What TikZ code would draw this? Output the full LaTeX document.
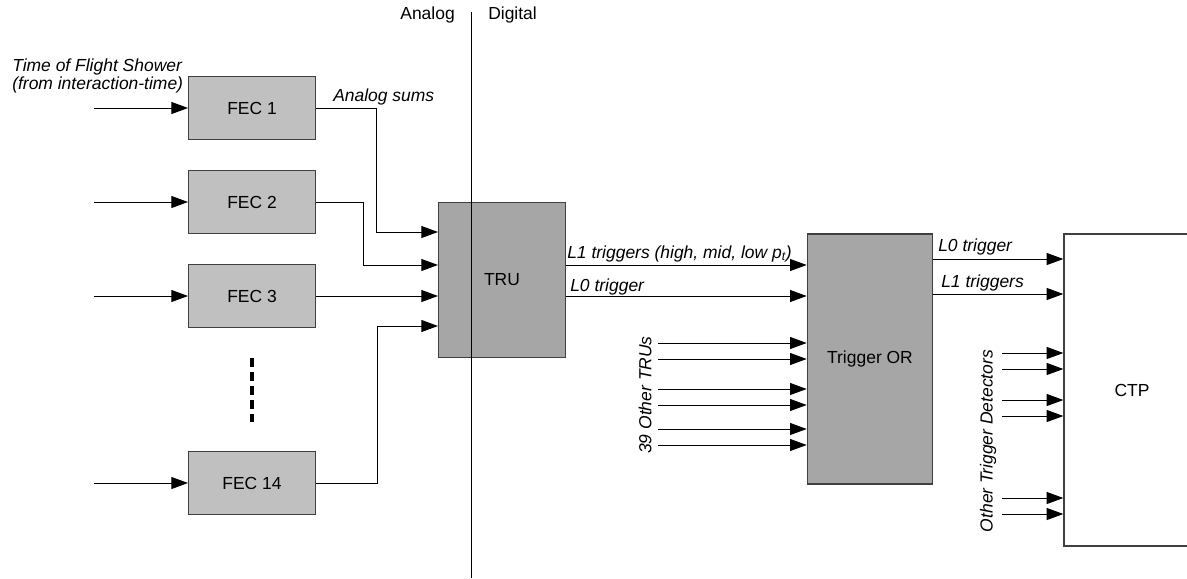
\documentclass[tikz,border=0pt]{standalone}
\usepackage{fontspec}
\setmainfont{Liberation Sans}
\usetikzlibrary{arrows.meta,calc}
\definecolor{fecgray}{RGB}{192,192,192}
\definecolor{trugray}{RGB}{166,166,166}
\definecolor{edge}{RGB}{64,64,64}

\begin{document}
\begin{tikzpicture}[x=0.75pt, y=-0.75pt,
  font=\fontsize{13.1}{15}\selectfont,
  arr/.style={-{Triangle[length=12.5pt, width=9pt]}, line width=0.7pt},
  wire/.style={line width=0.7pt},
  blk/.style={draw=edge, line width=1pt, minimum width=95pt, minimum height=47pt, inner sep=0pt},
  fec/.style={blk, fill=fecgray},
  big/.style={blk, fill=trugray},
  lbl/.style={font=\fontsize{13.1}{15}\selectfont\itshape, anchor=base west, inner sep=0pt}]
\useasboundingbox (0,0) rectangle (1187,578);
%% ---- front-end cards ----
\node[fec] (fec1) at (252,108) {FEC 1};
\node[fec] (fec2) at (252,202) {FEC 2};
\node[fec] (fec3) at (252,296) {FEC 3};
\node[fec] (fec14) at (252,483) {FEC 14};
\draw[line width=2.4pt, dash pattern=on 7pt off 3.5pt] (252,358) -- (252,422);
\foreach \f in {fec1,fec2,fec3,fec14}
  \draw[arr] (\f.west) ++(-94,0) coordinate (in-\f) -- (\f.west);
\node[lbl] (tof) at (12,71) {Time of Flight Shower};
\node[lbl] (tofsrc) at (12,89) {(from interaction-time)};
\node[lbl] (asum) at (333,101) {Analog sums};
%% ---- TRU ----
\node[big, minimum height=116pt] (tru) at (502,280) {TRU};
\draw[arr] (fec1.east) -| (376,232) -- (tru.west |- 0,232);
\draw[arr] (fec2.east) -| (363,265) -- (tru.west |- 0,265);
\draw[arr] (fec3.east) -- (tru.west |- fec3.east);
\draw[arr] (fec14.east) -| (377,326) -- (tru.west |- 0,326);
%% ---- analog / digital split ----
\draw[wire] (471,12) -- (471,578);
\node[anchor=base east, inner sep=0pt] (ana) at (455,19) {Analog};
\node[anchor=base west, inner sep=0pt] (dig) at (488,19) {Digital};
%% ---- Trigger OR ----
\node[big, minimum width=94pt, minimum height=187.5pt] (tor) at (870,359) {Trigger OR};
\draw[arr] (tru.east |- 0,265) -- (tor.west |- 0,265);
\node[lbl] (l1tru) at (567,258) {L1 triggers (high, mid, low p\textsubscript{t})};
\draw[arr] (tru.east |- 0,296) -- (tor.west |- 0,296);
\node[lbl] (l0tru) at (570,291) {L0 trigger};
\foreach \y in {343,359,389,405,429,445}
  \draw[arr] (658,\y) -- (tor.west |- 0,\y);
\node[lbl, anchor=center, rotate=90] (others) at (645,395) {39 Other TRUs};
%% ---- CTP ----
\node[draw=edge, line width=1pt, minimum width=102pt, minimum height=234pt] (ctp) at (1132,390) {CTP};
\draw[arr] (tor.east |- 0,259) -- (ctp.west |- 0,259);
\node[lbl] (l0tor) at (938,251) {L0 trigger};
\draw[arr] (tor.east |- 0,294) -- (ctp.west |- 0,294);
\node[lbl] (l1tor) at (941,287) {L1 triggers};
\foreach \y in {353,369,400,416,498,514}
  \draw[arr] (1002,\y) -- (ctp.west |- 0,\y);
\node[lbl, anchor=center, rotate=90] (detectors) at (988,441) {Other Trigger Detectors};
\end{tikzpicture}
\end{document}
